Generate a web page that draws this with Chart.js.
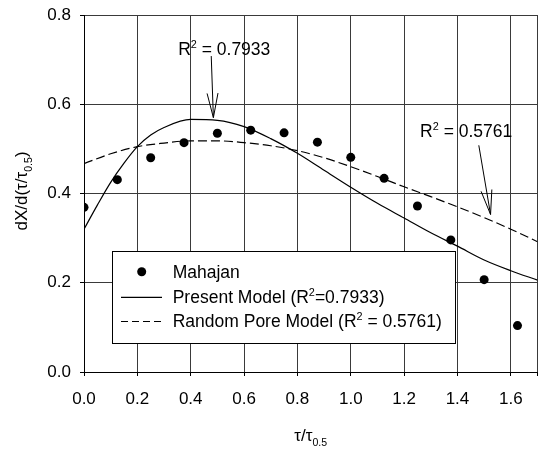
<!DOCTYPE html>
<html>
<head>
<meta charset="utf-8">
<script src="https://cdn.jsdelivr.net/npm/chart.js@4.4.1/dist/chart.umd.min.js"></script>
<style>
    html, body { margin: 0; padding: 0; background: #fff; }
    #wrap { width: 542px; height: 453px; position: relative; }
</style>
</head>
<body>
<div id="wrap"><canvas id="rateChart"></canvas></div>
<script>
// Mahajan 实验点
const tauRatio = [0, 0.125, 0.25, 0.375, 0.5, 0.625, 0.75, 0.875, 1.0, 1.125, 1.25, 1.375, 1.5, 1.625];
const mahajan = [0.369, 0.431, 0.480, 0.514, 0.535, 0.542, 0.536, 0.515, 0.481, 0.434, 0.372, 0.296, 0.207, 0.104];

// Present Model 曲线
const presentX = [0, 0.05, 0.1, 0.15, 0.2, 0.25, 0.3, 0.4, 0.5, 0.6, 0.7, 0.8, 0.9, 1.0, 1.1, 1.2, 1.3, 1.4, 1.5, 1.6, 1.7];
const presentY = [0.320, 0.374, 0.425, 0.468, 0.505, 0.531, 0.548, 0.566, 0.564, 0.550, 0.523, 0.490, 0.452, 0.414, 0.378, 0.345, 0.312, 0.282, 0.251, 0.227, 0.206];

// Random Pore Model 曲线
const poreX = [0, 0.1, 0.2, 0.3, 0.4, 0.5, 0.6, 0.7, 0.8, 0.9, 1.0, 1.1, 1.2, 1.3, 1.4, 1.5, 1.6, 1.7];
const poreY = [0.467, 0.489, 0.505, 0.513, 0.518, 0.518, 0.514, 0.507, 0.496, 0.480, 0.460, 0.438, 0.415, 0.393, 0.370, 0.346, 0.320, 0.292];

// 坐标刻度
const xTicks = [0, 0.2, 0.4, 0.6, 0.8, 1.0, 1.2, 1.4, 1.6];
const yTicks = [0, 0.2, 0.4, 0.6, 0.8];

const FONT = "'Liberation Sans', Arial, sans-serif";

function toPoints(xs, ys) {
    return xs.map((x, i) => ({ x: x, y: ys[i] }));
}

// 带上标/下标的文字
function drawRich(ctx, parts, x, y, size, measureOnly) {
    let cx = x;
    parts.forEach(([t, k]) => {
        const s = k === 'n' ? size : size * 0.62;
        const dy = k === 'sup' ? -size * 0.4 : (k === 'sub' ? size * 0.28 : 0);
        ctx.font = `${s}px ${FONT}`;
        if (!measureOnly) ctx.fillText(t, cx, y + dy);
        cx += ctx.measureText(t).width;
    });
    return cx - x;
}

function drawArrow(ctx, x1, y1, x2, y2) {
    const ang = Math.atan2(y1 - y2, x1 - x2);
    const len = 25, spread = 0.22;
    ctx.beginPath();
    ctx.moveTo(x1, y1);
    ctx.lineTo(x2, y2);
    ctx.moveTo(x2 + len * Math.cos(ang - spread), y2 + len * Math.sin(ang - spread));
    ctx.lineTo(x2, y2);
    ctx.lineTo(x2 + len * Math.cos(ang + spread), y2 + len * Math.sin(ang + spread));
    ctx.stroke();
}

// 标注、坐标轴标题、图例
const decorPlugin = {
    id: 'decor',
    afterDraw(chart) {
        const ctx = chart.ctx;
        const xs = chart.scales.x, ys = chart.scales.y;
        const area = chart.chartArea;
        ctx.save();
        ctx.fillStyle = '#000';
        ctx.strokeStyle = '#000';
        ctx.lineWidth = 1;
        ctx.textBaseline = 'alphabetic';
        ctx.textAlign = 'left';

        // 坐标轴标题
        const xTitle = [['τ/τ', 'n'], ['0.5', 'sub']];
        const wx = drawRich(ctx, xTitle, 0, 0, 17, true);
        drawRich(ctx, xTitle, (area.left + area.right) / 2 - wx / 2, 441, 17);

        const yTitle = [['dX/d(τ/τ', 'n'], ['0.5', 'sub'], [')', 'n']];
        const wy = drawRich(ctx, yTitle, 0, 0, 17, true);
        ctx.save();
        ctx.translate(27, 191);
        ctx.rotate(-Math.PI / 2);
        drawRich(ctx, yTitle, -wy / 2, 0, 17);
        ctx.restore();

        // R² 标注及箭头
        drawRich(ctx, [['R', 'n'], ['2', 'sup'], [' = 0.7933', 'n']],
            xs.getPixelForValue(0.353), ys.getPixelForValue(0.710), 17.5);
        drawArrow(ctx, xs.getPixelForValue(0.477), ys.getPixelForValue(0.708),
            xs.getPixelForValue(0.485), ys.getPixelForValue(0.570));

        drawRich(ctx, [['R', 'n'], ['2', 'sup'], [' = 0.5761', 'n']],
            xs.getPixelForValue(1.260), ys.getPixelForValue(0.527), 17.5);
        drawArrow(ctx, xs.getPixelForValue(1.480), ys.getPixelForValue(0.508),
            xs.getPixelForValue(1.524), ys.getPixelForValue(0.353));

        // 图例
        const bx = 112.5, by = 251.5, bw = 343, bh = 92;
        ctx.fillStyle = '#fff';
        ctx.fillRect(bx, by, bw, bh);
        ctx.strokeRect(bx, by, bw, bh);
        ctx.fillStyle = '#000';

        ctx.beginPath();
        ctx.arc(141.7, 271.7, 4.5, 0, Math.PI * 2);
        ctx.fill();

        ctx.lineWidth = 1.2;
        ctx.beginPath();
        ctx.moveTo(121, 297.3);
        ctx.lineTo(162, 297.3);
        ctx.stroke();
        ctx.setLineDash([7, 4]);
        ctx.beginPath();
        ctx.moveTo(121, 321.5);
        ctx.lineTo(162, 321.5);
        ctx.stroke();
        ctx.setLineDash([]);

        drawRich(ctx, [['Mahajan', 'n']], 172.7, 277.7, 17.5);
        drawRich(ctx, [['Present Model (R', 'n'], ['2', 'sup'], ['=0.7933)', 'n']], 172.7, 302.7, 17.5);
        drawRich(ctx, [['Random Pore Model (R', 'n'], ['2', 'sup'], [' = 0.5761)', 'n']], 172.7, 327.3, 17.5);

        ctx.restore();
    }
};

function initRateChart() {
    const ctx = document.getElementById('rateChart');
    if (!ctx) return;

    const config = {
        type: 'scatter',
        data: {
            datasets: [
                {
                    label: 'Mahajan',
                    data: toPoints(tauRatio, mahajan),
                    pointRadius: 4.5,
                    pointBackgroundColor: '#000',
                    pointBorderWidth: 0,
                    showLine: false
                },
                {
                    label: 'Present Model',
                    data: toPoints(presentX, presentY),
                    showLine: true,
                    pointRadius: 0,
                    borderColor: '#000',
                    borderWidth: 1.2,
                    cubicInterpolationMode: 'monotone'
                },
                {
                    label: 'Random Pore Model',
                    data: toPoints(poreX, poreY),
                    showLine: true,
                    pointRadius: 0,
                    borderColor: '#000',
                    borderWidth: 1.2,
                    borderDash: [9, 4],
                    cubicInterpolationMode: 'monotone'
                }
            ]
        },
        options: {
            responsive: true,
            maintainAspectRatio: false,
            animation: false,
            layout: { padding: { left: 0, right: 4, top: 15, bottom: 0 } },
            plugins: {
                legend: { display: false },
                tooltip: { enabled: false }
            },
            scales: {
                x: {
                    type: 'linear',
                    min: 0,
                    max: 1.7,
                    afterBuildTicks: s => { s.ticks = xTicks.concat([1.7]).map(v => ({ value: v })); },
                    afterFit: s => { s.height = 81; s.paddingLeft = 0; s.paddingRight = 0; },
                    ticks: {
                        color: '#000',
                        padding: 13,
                        font: { family: FONT, size: 17 },
                        callback: v => xTicks.includes(v) ? v.toFixed(1) : ''
                    },
                    grid: { color: '#3a3a3a', lineWidth: 1, tickLength: 4, tickColor: '#000' },
                    border: { display: true, color: '#000', width: 1 }
                },
                y: {
                    min: 0,
                    max: 0.8,
                    afterBuildTicks: s => { s.ticks = yTicks.map(v => ({ value: v })); },
                    afterFit: s => { s.width = 84; s.paddingTop = 0; s.paddingBottom = 0; },
                    ticks: {
                        color: '#000',
                        padding: 9,
                        font: { family: FONT, size: 17 },
                        callback: v => v.toFixed(1)
                    },
                    grid: { color: '#3a3a3a', lineWidth: 1, tickLength: 4, tickColor: '#000' },
                    border: { display: true, color: '#000', width: 1 }
                }
            }
        },
        plugins: [decorPlugin]
    };

    new Chart(ctx, config);
}

document.addEventListener('DOMContentLoaded', initRateChart);
</script>
</body>
</html>
